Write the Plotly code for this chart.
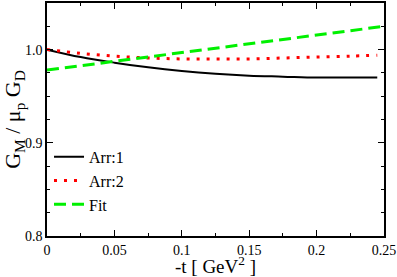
import plotly.graph_objects as go

t = [0, 0.025, 0.05, 0.075, 0.1, 0.125, 0.15, 0.175, 0.2, 0.225, 0.245]
arr1 = [1.0, 0.992, 0.986, 0.981, 0.977, 0.974, 0.972, 0.971, 0.970, 0.970, 0.970]
arr2 = [1.0, 0.996, 0.993, 0.991, 0.990, 0.990, 0.990, 0.991, 0.992, 0.993, 0.994]
t_fit = [0, 0.25]
fit = [0.978, 1.025]

SERIF = "Liberation Serif, Times New Roman, serif"

fig = go.Figure()
fig.add_trace(go.Scatter(x=t, y=arr1, mode="lines", name="Arr:1",
                         line=dict(color="black", width=2, shape="spline")))
fig.add_trace(go.Scatter(x=t, y=arr2, mode="lines", name="Arr:2",
                         line=dict(color="red", width=3, dash="3px,7px", shape="spline")))
fig.add_trace(go.Scatter(x=t_fit, y=fit, mode="lines", name="Fit",
                         line=dict(color="#00f000", width=3, dash="12px,6px")))

axis_common = dict(showline=True, linecolor="black", linewidth=1.5, mirror="allticks",
                   ticks="inside", ticklen=6, tickcolor="black", tickwidth=1, showgrid=False, zeroline=False,
                   tickfont=dict(family=SERIF, size=14, color="black"))
fig.update_xaxes(range=[0, 0.25], tickvals=[0, 0.05, 0.1, 0.15, 0.2, 0.25],
                 ticktext=["0", "0.05", "0.1", "0.15", "0.2", "0.25"],
                 minor=dict(ticks="inside", ticklen=3, tickcolor="black", tickwidth=1,
                            tickvals=[0.025, 0.075, 0.125, 0.175, 0.225], showgrid=False),
                 title=dict(text="-t [ GeV<sup>2</sup> ]", standoff=1,
                            font=dict(family=SERIF, size=19, color="black")),
                 **axis_common)
fig.update_yaxes(range=[0.8, 1.05], tickvals=[0.8, 0.9, 1.0], ticktext=["0.8", "0.9", "1.0"],
                 minor=dict(ticks="inside", ticklen=3, tickcolor="black", tickwidth=1,
                            tickvals=[0.825, 0.85, 0.875, 0.925, 0.95, 0.975, 1.025], showgrid=False),
                 title=dict(text="G<sub>M</sub> / μ<sub>p</sub> G<sub>D</sub>", standoff=3,
                            font=dict(family=SERIF, size=22, color="black")),
                 **axis_common)
fig.update_layout(width=397, height=277, margin=dict(l=47, r=13, t=1, b=41),
                  plot_bgcolor="white", paper_bgcolor="white",
                  legend=dict(x=0.006, y=0.413, xanchor="left", yanchor="top",
                              bgcolor="rgba(0,0,0,0)", tracegroupgap=0, itemwidth=30,
                              font=dict(family=SERIF, size=16, color="black")))
fig.write_html("out.html", config={"displayModeBar": False},
               post_script="document.body.style.margin='0';")
